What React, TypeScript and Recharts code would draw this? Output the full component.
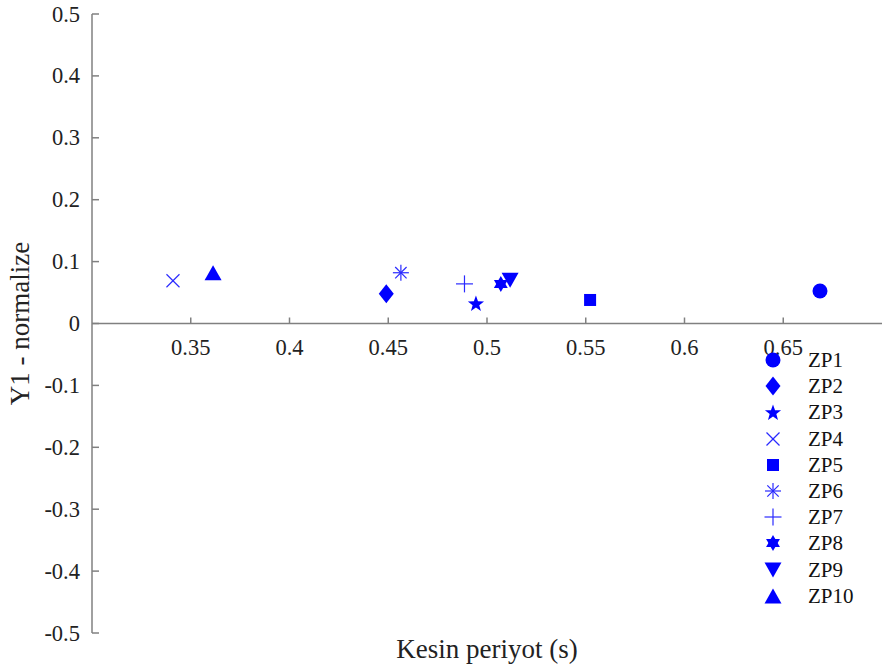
import React from "react";
import {
  ScatterChart,
  Scatter,
  XAxis,
  YAxis,
  ReferenceLine,
  Legend,
} from "recharts";

// series names, one point each
const ZP_NAMES = ["ZP1", "ZP2", "ZP3", "ZP4", "ZP5", "ZP6", "ZP7", "ZP8", "ZP9", "ZP10"];
const PERIOD_S = [0.6686, 0.449, 0.4944, 0.341, 0.5522, 0.4564, 0.4886, 0.507, 0.5117, 0.3613];
const Y1_NORM = [0.0525, 0.048, 0.033, 0.069, 0.038, 0.082, 0.064, 0.064, 0.07, 0.082];
const MARKERS = [
  "circle",
  "diamond",
  "star",
  "cross",
  "square",
  "asterisk",
  "plus",
  "hexagram",
  "triangleDown",
  "triangle",
];

const X_TICKS = [0.35, 0.4, 0.45, 0.5, 0.55, 0.6, 0.65];
const Y_TICKS = [0.5, 0.4, 0.3, 0.2, 0.1, 0, -0.1, -0.2, -0.3, -0.4, -0.5];

const WIDTH = 882;
const HEIGHT = 670;
const AXIS_X = 92;
const PLOT_TOP = 14;
const PLOT_H = 619;
const ZERO_Y = PLOT_TOP + PLOT_H / 2;

const BLUE = "#0000ff";
const AXIS_GRAY = "#808080";
const FONT = "Liberation Serif";

const Marker = ({ kind, cx, cy }: { kind: string; cx: number; cy: number }) => {
  const line = { stroke: "#2a2aff", strokeWidth: 1.2, fill: "none" };
  switch (kind) {
    case "circle":
      return <circle cx={cx} cy={cy} r={7.5} fill={BLUE} />;
    case "diamond":
      return (
        <polygon
          points={`${cx},${cy - 9.5} ${cx + 7.5},${cy} ${cx},${cy + 9.5} ${cx - 7.5},${cy}`}
          fill={BLUE}
        />
      );
    case "star": {
      const pts: string[] = [];
      for (let i = 0; i < 10; i++) {
        const r = i % 2 === 0 ? 8.5 : 3.5;
        const a = -Math.PI / 2 + (i * Math.PI) / 5;
        pts.push(`${cx + r * Math.cos(a)},${cy + 1 + r * Math.sin(a)}`);
      }
      return <polygon points={pts.join(" ")} fill={BLUE} />;
    }
    case "cross":
      return (
        <g {...line}>
          <line x1={cx - 6.5} y1={cy - 6.5} x2={cx + 6.5} y2={cy + 6.5} />
          <line x1={cx - 6.5} y1={cy + 6.5} x2={cx + 6.5} y2={cy - 6.5} />
        </g>
      );
    case "square":
      return <rect x={cx - 6} y={cy - 6} width={12} height={12} fill={BLUE} />;
    case "asterisk":
      return (
        <g {...line}>
          <line x1={cx - 8} y1={cy} x2={cx + 8} y2={cy} />
          <line x1={cx} y1={cy - 8} x2={cx} y2={cy + 8} />
          <line x1={cx - 5.7} y1={cy - 5.7} x2={cx + 5.7} y2={cy + 5.7} />
          <line x1={cx - 5.7} y1={cy + 5.7} x2={cx + 5.7} y2={cy - 5.7} />
        </g>
      );
    case "plus":
      return (
        <g {...line}>
          <line x1={cx - 8.5} y1={cy} x2={cx + 8.5} y2={cy} />
          <line x1={cx} y1={cy - 8.5} x2={cx} y2={cy + 8.5} />
        </g>
      );
    case "hexagram": {
      const tri = (rot: number) =>
        [0, 1, 2]
          .map((i) => {
            const a = rot + (i * 2 * Math.PI) / 3;
            return `${cx + 8 * Math.cos(a)},${cy + 8 * Math.sin(a)}`;
          })
          .join(" ");
      return (
        <g fill={BLUE}>
          <polygon points={tri(-Math.PI / 2)} />
          <polygon points={tri(Math.PI / 2)} />
        </g>
      );
    }
    case "triangleDown":
      return (
        <polygon
          points={`${cx - 8.5},${cy - 7.5} ${cx + 8.5},${cy - 7.5} ${cx},${cy + 7.5}`}
          fill={BLUE}
        />
      );
    case "triangle":
      return (
        <polygon
          points={`${cx},${cy - 7.5} ${cx + 8.5},${cy + 7.5} ${cx - 8.5},${cy + 7.5}`}
          fill={BLUE}
        />
      );
    default:
      return null;
  }
};

const textStyle = { fontFamily: FONT };

const XTick = (props: any) => {
  const { x, payload } = props;
  return (
    <g>
      <line x1={x} x2={x} y1={ZERO_Y} y2={ZERO_Y - 6} stroke={AXIS_GRAY} strokeWidth={1.5} />
      <text
        x={x}
        y={ZERO_Y + 31}
        textAnchor="middle"
        style={textStyle}
        fontSize={22.5}
        fill="#222"
      >
        {String(payload.value)}
      </text>
    </g>
  );
};

const YTick = (props: any) => {
  const { y, payload } = props;
  return (
    <g>
      <line x1={AXIS_X} x2={AXIS_X + 7} y1={y} y2={y} stroke={AXIS_GRAY} strokeWidth={1.5} />
      <text
        x={AXIS_X - 12}
        y={y + 7.5}
        textAnchor="end"
        style={textStyle}
        fontSize={22.5}
        fill="#222"
      >
        {String(payload.value)}
      </text>
    </g>
  );
};

const LegendBox = () => (
  <div style={{ fontFamily: FONT, fontSize: 21, color: "#111", lineHeight: "26.2px" }}>
    {ZP_NAMES.map((name, i) => (
      <div key={name} style={{ display: "flex", alignItems: "center", height: 26.2 }}>
        <svg width={30} height={24} style={{ marginRight: 18 }}>
          <Marker kind={MARKERS[i]} cx={13} cy={12} />
        </svg>
        <span style={{ fontFamily: FONT }}>{name}</span>
      </div>
    ))}
  </div>
);

const App = () => {
  return (
    <div style={{ position: "absolute", left: 0, top: 0, background: "#fff" }}>
      <ScatterChart
        width={WIDTH}
        height={HEIGHT}
        margin={{ top: PLOT_TOP, right: 0, bottom: 0, left: 0 }}
      >
        <XAxis
          type="number"
          dataKey="x"
          domain={[0.3, 0.7]}
          ticks={X_TICKS}
          height={37}
          axisLine={false}
          tickLine={false}
          tickSize={0}
          tick={<XTick />}
          interval={0}
          label={(p: any) => {
            const vb = p.viewBox || { x: AXIS_X, width: WIDTH - AXIS_X };
            return (
              <text
                x={vb.x + vb.width / 2}
                y={HEIGHT - 12}
                textAnchor="middle"
                style={textStyle}
                fontSize={27}
                fill="#222"
              >
                Kesin periyot (s)
              </text>
            );
          }}
        />
        <YAxis
          type="number"
          dataKey="y"
          domain={[-0.5, 0.5]}
          ticks={Y_TICKS}
          width={AXIS_X}
          axisLine={{ stroke: AXIS_GRAY, strokeWidth: 1.5 }}
          tickLine={false}
          tickSize={0}
          tick={<YTick />}
          interval={0}
          label={() => (
            <text
              x={29}
              y={ZERO_Y}
              transform={`rotate(-90 29 ${ZERO_Y})`}
              textAnchor="middle"
              style={textStyle}
              fontSize={27}
              fill="#222"
            >
              Y1 - normalize
            </text>
          )}
        />
        <ReferenceLine y={0} stroke={AXIS_GRAY} strokeWidth={1.5} />
        {ZP_NAMES.map((name, i) => (
          <Scatter
            key={name}
            name={name}
            data={[{ x: PERIOD_S[i], y: Y1_NORM[i] }]}
            fill={BLUE}
            isAnimationActive={false}
            shape={(p: any) => <Marker kind={MARKERS[i]} cx={p.cx} cy={p.cy} />}
          />
        ))}
        <Legend
          layout="horizontal"
          align="center"
          verticalAlign="middle"
          content={<LegendBox />}
          wrapperStyle={{ left: 760, top: 347, width: 120 }}
        />
      </ScatterChart>
    </div>
  );
};

export default App;
